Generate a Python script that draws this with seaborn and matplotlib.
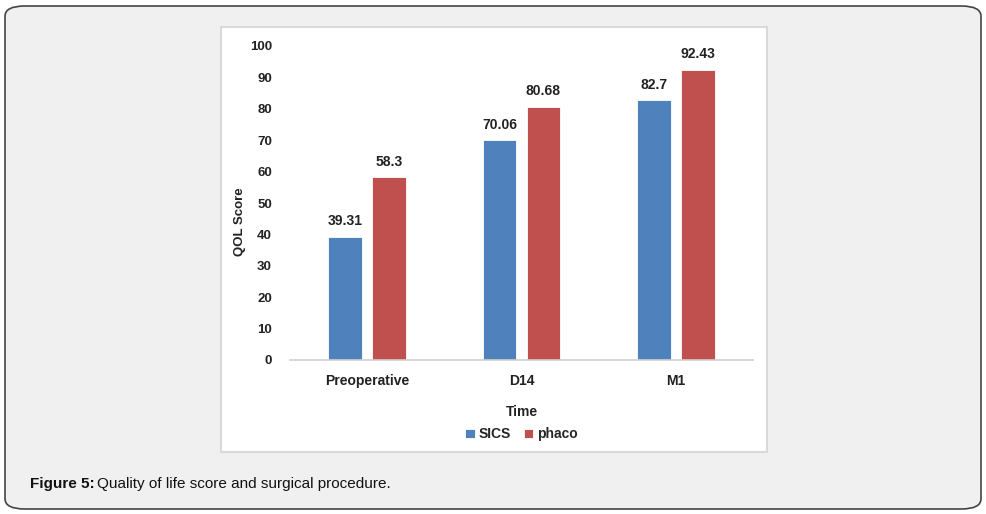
import pandas as pd
import matplotlib.pyplot as plt
import seaborn as sns
from matplotlib.patches import FancyBboxPatch, Rectangle

# Chart values
times = ['Preoperative', 'D14', 'M1']
sics = [39.31, 70.06, 82.7]
phaco = [58.3, 80.68, 92.43]
groups = ['SICS', 'phaco']
colors = ['#4F81BD', '#C0504D']

df = pd.DataFrame({
    'Time': times * 2,
    'QOL Score': sics + phaco,
    'Group': ['SICS'] * 3 + ['phaco'] * 3,
})

sns.set_style('white')
plt.rcParams['font.family'] = ['Liberation Sans', 'DejaVu Sans']

W, H = 987, 514
fig = plt.figure(figsize=(W / 100, H / 100), dpi=100)

# outer rounded frame and inner white chart panel
fig.patches.append(FancyBboxPatch((5 / W, 5 / H), 976 / W, 503 / H,
                                  boxstyle='round,pad=0,rounding_size=0.02',
                                  transform=fig.transFigure, facecolor='#f0f0f0',
                                  edgecolor='#444444', linewidth=1.2, zorder=0))
fig.patches.append(Rectangle((221 / W, (H - 452) / H), 546 / W, 425 / H,
                             transform=fig.transFigure, facecolor='white',
                             edgecolor='#d9d9d9', linewidth=1.5, zorder=1))

ax = fig.add_axes([290 / W, (H - 360) / H, 463 / W, 314 / H])
ax.set_facecolor('none')
ax.set_zorder(2)

sns.barplot(data=df, x='Time', y='QOL Score', hue='Group', hue_order=groups,
            palette=colors, saturation=1, width=0.57, gap=0.23, ax=ax, legend=True,
            edgecolor='white', linewidth=0.6)

for cont in ax.containers:
    ax.bar_label(cont, fmt='%g', padding=6, fontsize=10, fontweight='bold',
                 color='#222222')

ax.set_ylim(0, 100)
ax.set_xlim(-0.5, 2.5)
ax.set_yticks(range(0, 101, 10))
for s in ['top', 'right', 'left']:
    ax.spines[s].set_visible(False)
ax.spines['bottom'].set_color('#d0d0d0')
ax.spines['bottom'].set_linewidth(1.2)
ax.tick_params(axis='y', length=0, labelsize=9.5, colors='#222222', pad=13)
ax.tick_params(axis='x', length=0, labelsize=10, colors='#222222', pad=10)
for lab in ax.get_xticklabels() + ax.get_yticklabels():
    lab.set_fontweight('bold')

ax.set_ylabel('QOL Score', fontsize=9.5, fontweight='bold', color='#222222')
ax.yaxis.set_label_coords(-0.095, 0.44)
ax.set_xlabel('Time', fontsize=10, fontweight='bold', color='#222222', labelpad=12)

ax.legend(loc='upper center', bbox_to_anchor=(0.5, -0.175), ncol=2, frameon=False,
          handlelength=0.7, handleheight=0.7, handletextpad=0.3, columnspacing=0.9,
          prop={'weight': 'bold', 'size': 10})

fig.text(30 / W, (H - 484) / H, 'Figure 5:', fontsize=11, fontweight='bold',
         va='center', ha='left', color='#111111')
fig.text(97 / W, (H - 484) / H, 'Quality of life score and surgical procedure.',
         fontsize=11, va='center', ha='left', color='#111111')

fig.savefig('out.png', dpi=100)
